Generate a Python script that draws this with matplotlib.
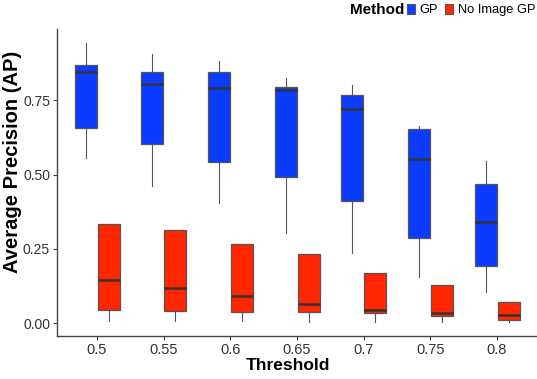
import matplotlib
matplotlib.use("Agg")
import matplotlib.pyplot as plt
from matplotlib.patches import Patch
import numpy as np

thresholds = ["0.5", "0.55", "0.6", "0.65", "0.7", "0.75", "0.8"]

gp_whislo = [0.555, 0.462, 0.406, 0.305, 0.237, 0.156, 0.106]
gp_q1     = [0.656, 0.603, 0.543, 0.492, 0.411, 0.288, 0.192]
gp_med    = [0.844, 0.804, 0.790, 0.785, 0.722, 0.554, 0.340]
gp_q3     = [0.868, 0.844, 0.844, 0.794, 0.767, 0.654, 0.468]
gp_whishi = [0.942, 0.906, 0.881, 0.825, 0.802, 0.664, 0.547]

ni_whislo = [0.009, 0.009, 0.007, 0.005, 0.005, 0.005, 0.003]
ni_q1     = [0.045, 0.041, 0.038, 0.037, 0.035, 0.024, 0.011]
ni_med    = [0.145, 0.119, 0.093, 0.065, 0.046, 0.034, 0.029]
ni_q3     = [0.334, 0.313, 0.268, 0.232, 0.170, 0.128, 0.073]
ni_whishi = [0.334, 0.313, 0.268, 0.232, 0.170, 0.128, 0.073]

methods = ["GP", "No Image GP"]
colors = ["#0A3BFF", "#FF2600"]

def stats(lo, q1, med, q3, hi):
    return [dict(whislo=a, q1=b, med=c, q3=d, whishi=e, fliers=[])
            for a, b, c, d, e in zip(lo, q1, med, q3, hi)]

FONT = "Liberation Sans"

fig = plt.figure(figsize=(5.37, 3.79), dpi=100)
ax = fig.add_axes([57/537, 1-336/379, 480/537, (336-29)/379])

pos = np.arange(1, len(thresholds) + 1)
offs = [-0.17, 0.175]
width = 0.33
for st, off, col in zip([stats(gp_whislo, gp_q1, gp_med, gp_q3, gp_whishi),
                         stats(ni_whislo, ni_q1, ni_med, ni_q3, ni_whishi)],
                        offs, colors):
    ax.bxp(st, positions=pos + off, widths=width, patch_artist=True,
           showcaps=False, showfliers=False,
           boxprops=dict(facecolor=col, edgecolor="#555555", linewidth=0.9),
           medianprops=dict(color="#333333", linewidth=1.8),
           whiskerprops=dict(color="#555555", linewidth=0.8))

ax.set_xlim(0.4, 7.6)
ax.set_ylim(-0.043, 0.99)
ax.set_xticks(pos)
ax.set_xticklabels(thresholds)
ax.set_yticks([0, 0.25, 0.5, 0.75])
ax.set_yticklabels(["0.00", "0.25", "0.50", "0.75"])
for s in ["top", "right"]:
    ax.spines[s].set_visible(False)
for s in ["left", "bottom"]:
    ax.spines[s].set_color("#444444")
    ax.spines[s].set_linewidth(1.0)
ax.tick_params(length=3, color="#444444", labelsize=10.5, labelcolor="#333333", pad=2)
ax.tick_params(axis="y", labelsize=10)
for lab in ax.get_xticklabels() + ax.get_yticklabels():
    lab.set_family(FONT)
ax.set_xlabel("Threshold", family=FONT, fontweight="bold", fontsize=12.5)
ax.xaxis.set_label_coords((288 - 57) / 480, (336 - 366) / 307)
ax.xaxis.label.set_va("center")
ax.set_ylabel("Average Precision (AP)", family=FONT, fontweight="bold", fontsize=14.5)
ax.yaxis.set_label_coords((13 - 57) / 480, (336 - 162) / 307)
ax.yaxis.label.set_va("center")

fig.text(404/537, 1 - 10/379, "Method", family=FONT, fontweight="bold",
         fontsize=11, ha="right", va="center")
handles = [Patch(facecolor=c, edgecolor="#555555", linewidth=0.8) for c in colors]
leg = fig.legend(handles, methods, loc="center left", bbox_to_anchor=(405/537, 1 - 10/379),
                 ncol=2, frameon=False, handlelength=0.65, handleheight=0.9,
                 handletextpad=0.35, columnspacing=0.5, borderpad=0.15,
                 borderaxespad=0.0,
                 prop=dict(family=FONT, size=9.3))

fig.savefig("out.png", dpi=100)
